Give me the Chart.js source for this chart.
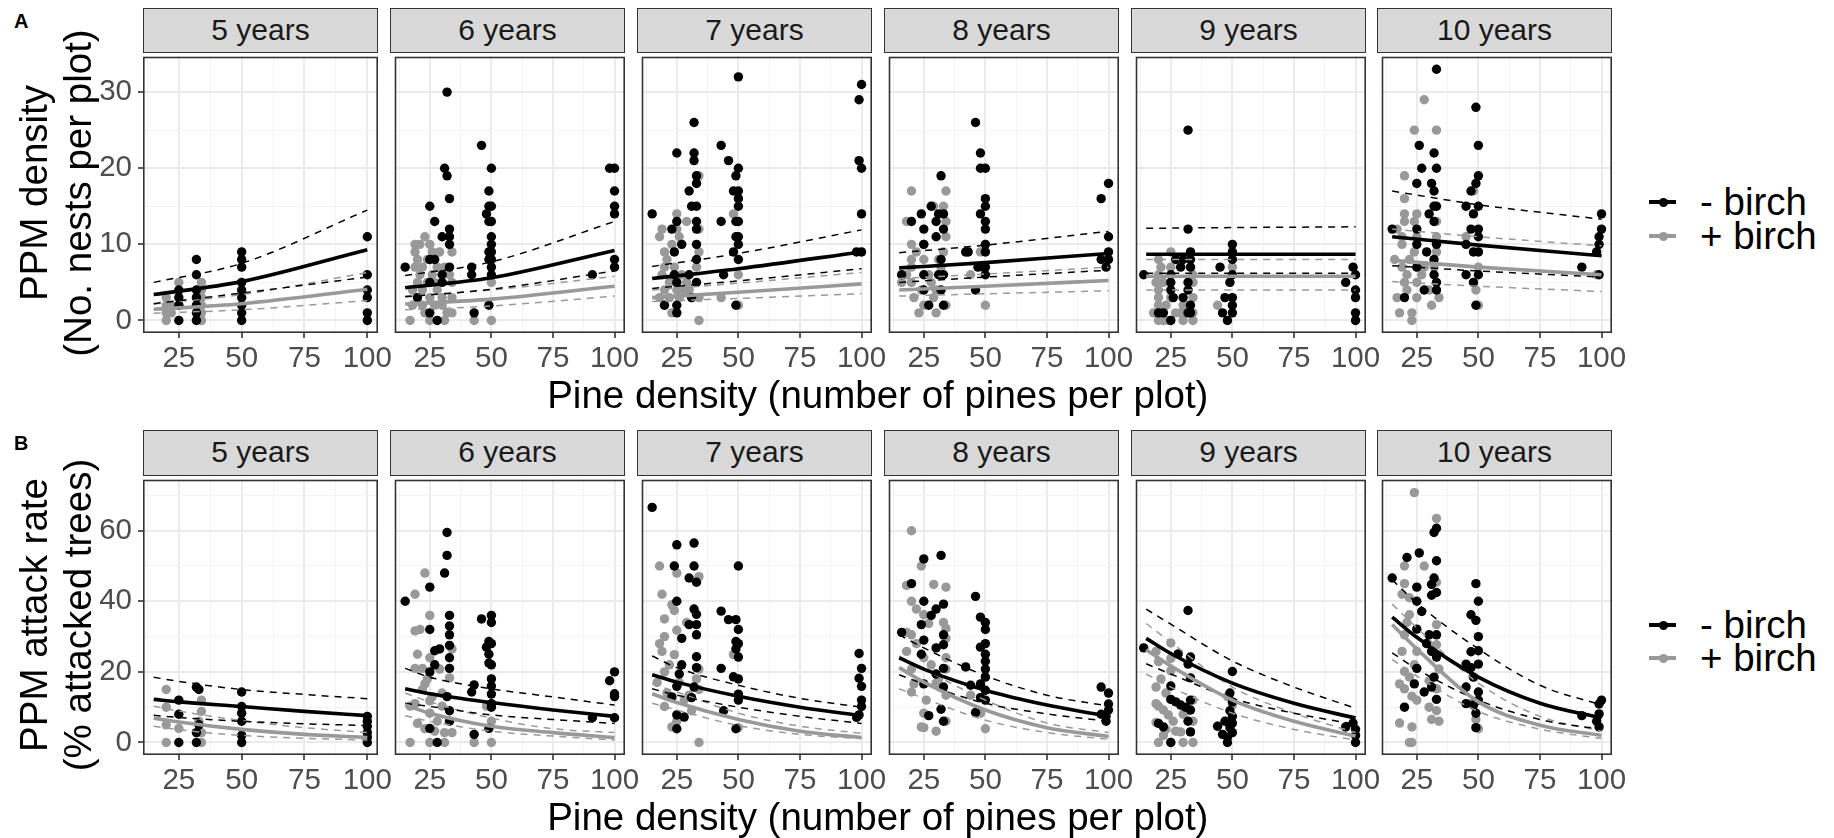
<!DOCTYPE html>
<html>
<head>
<meta charset="utf-8">
<script src="https://cdn.jsdelivr.net/npm/chart.js@4.4.0/dist/chart.umd.min.js"></script>
<style>
  html, body { margin: 0; padding: 0; background: #fff; }
  body { width: 1834px; height: 838px; position: relative; overflow: hidden; font-family: "Liberation Sans", Arial, sans-serif; }
  .abs { position: absolute; }
  .strip { position: absolute; background: #D9D9D9; border: 1.6px solid #333333; box-sizing: border-box; text-align: center; color: #1A1A1A; font-size: 30px; line-height: 41px; white-space: nowrap; }
  .title { position: absolute; color: #000; font-size: 38.5px; line-height: 44px; white-space: nowrap; text-align: center; }
  .tag { position: absolute; font-weight: bold; font-size: 20px; color: #000; }
  .legtext { position: absolute; font-size: 38.5px; line-height: 44px; color: #000; white-space: nowrap; }
  canvas { position: absolute; }
</style>
</head>
<body>
<script>
// ---------------- DATA ----------------
const years = ['5 years', '6 years', '7 years', '8 years', '9 years', '10 years'];
const legendLabels = ['- birch', '+ birch'];
const xMajor = [25, 50, 75, 100];
const xMinor = [12.5, 37.5, 62.5, 87.5];
const xRange = [10.75, 104.25];
const nestsMajor = [0, 10, 20, 30];
const nestsMinor = [5, 15, 25];
const nestsRange = [-1.65, 34.65];
const attackMajor = [0, 20, 40, 60];
const attackMinor = [10, 30, 50, 70];
const attackRange = [-3.55, 74.45];
const nestsCurveX = [15, 50, 100];
const attackCurveX = [15, 25, 50, 75, 100];

// --- PPM density (nests), points [pine density, nests] ---
const n5_minus = [[25,4],[25,3],[25,2],[25,0],[32,8],[32,6],[32,4],[32,3],[32,2],[32,1],[32,0],[50,9],[50,8],[50,7],[50,5],[50,4],[50,3],[50,2],[50,1],[50,0],[100,11],[100,6],[100,4],[100,3],[100,1],[100,0]];
const n5_plus = [[20,3],[20,2],[20,1],[20,0],[22,2],[22,1],[25,5],[25,2],[34,5],[34,4],[34,3],[34,2],[34,1],[34,0]];
const n6_minus = [[15,7],[25,15],[27,13],[25,8],[27,8],[30,11],[31,20],[32,19],[32,30],[33,16],[33,12],[33,11],[33,10],[33,7],[30,6],[30,5],[25,5],[25,1],[20,3],[28,0],[42,7],[42,6],[43,1],[46,23],[50,20],[49,17],[49,15],[50,15],[48,14],[49,13],[50,13],[50,11],[50,10],[50,9],[50,8],[50,7],[49,9],[49,8],[49,2],[50,6],[91,6],[98,20],[100,20],[100,17],[100,15],[100,14],[100,8],[100,7]];
const n6_plus = [[17,0],[19,10],[19,9],[23,11],[25,10],[22,7],[21,6],[20,5],[18,4],[18,2],[25,0],[31,0],[29,9],[34,9],[31,7],[34,5],[34,3],[34,1],[43,0],[50,0],[50,5],[22,2],[23,1],[27,2],[20,8],[24,8],[26,6],[28,4],[22,4],[25,3],[30,3],[32,1],[33,6],[26,9],[21,10],[28,7],[24,5],[19,7],[30,2],[27,5]];
const n7_minus = [[15,14],[25,22],[25,13],[23,12],[27,10],[24,9],[25,5],[25,1],[25,2],[24,6],[20,2],[32,26],[32,22],[32,21],[33,19],[33,18],[30,17],[31,15],[33,15],[33,13],[33,12],[33,10],[33,8],[33,5],[30,6],[31,3],[43,23],[46,21],[43,13],[44,6],[50,32],[50,20],[49,19],[48,17],[50,17],[50,16],[50,15],[49,13],[50,13],[50,11],[49,11],[50,10],[48,9],[50,8],[49,2],[100,31],[99,29],[99,21],[100,20],[100,14],[98,9],[100,9]];
const n7_plus = [[34,19],[25,14],[29,13],[19,12],[18,11],[25,12],[26,11],[20,9],[23,10],[20,7],[19,6],[22,5],[20,4],[20,2],[23,1],[34,0],[34,12],[34,9],[33,7],[30,4],[34,3],[43,3],[48,14],[50,6],[50,2],[26,3],[28,4],[22,3],[24,7],[21,8],[29,5],[31,3],[27,6],[25,4],[18,3]];
const n8_minus = [[16,6],[20,13],[24,14],[25,12],[25,10],[25,6],[25,4],[27,2],[28,15],[30,13],[32,19],[31,14],[33,14],[33,12],[30,11],[32,8],[31,6],[33,6],[32,4],[33,2],[43,9],[42,9],[46,26],[48,22],[48,20],[50,20],[50,16],[50,15],[48,14],[50,13],[50,12],[50,10],[50,9],[49,7],[50,7],[50,6],[46,4],[47,7],[100,18],[97,16],[100,11],[100,9],[100,8],[97,8],[99,7]];
const n8_plus = [[20,17],[34,17],[18,13],[29,15],[33,15],[34,13],[20,10],[25,10],[20,8],[25,8],[34,11],[33,9],[32,7],[20,5],[21,3],[23,1],[30,1],[25,2],[34,2],[44,6],[50,2],[48,9],[16,5],[18,6],[20,7],[28,5],[30,4],[22,9],[27,6],[24,4],[31,8],[29,3]];
const n9_minus = [[32,25],[32,12],[14,6],[27,8],[29,7],[30,8],[33,9],[33,8],[33,7],[25,6],[25,5],[25,4],[26,3],[30,3],[32,5],[32,4],[33,2],[33,1],[20,1],[22,1],[25,0],[32,1],[45,7],[50,10],[50,9],[50,8],[50,6],[49,5],[47,3],[50,3],[50,2],[50,1],[46,1],[48,0],[99,7],[96,5],[100,6],[100,4],[100,3],[100,1],[100,0]];
const n9_plus = [[25,9],[20,8],[25,7],[34,6],[34,5],[20,6],[20,4],[20,3],[20,2],[18,1],[20,0],[30,0],[34,0],[34,3],[29,1],[23,2],[50,7],[44,2],[22,5],[30,2],[24,0],[27,1],[34,1],[19,5],[21,7],[25,3],[32,2],[22,0]];
const n10_minus = [[33,33],[49,28],[50,23],[26,23],[32,22],[27,20],[33,20],[25,18],[31,18],[32,17],[32,15],[33,15],[30,14],[32,13],[25,12],[15,12],[25,10],[29,9],[33,10],[32,8],[25,7],[32,6],[33,5],[28,4],[20,3],[33,4],[50,19],[49,18],[47,17],[45,15],[50,15],[48,14],[47,12],[50,12],[50,11],[45,10],[48,9],[50,9],[50,6],[45,6],[48,5],[49,2],[100,14],[100,12],[99,11],[99,10],[98,9],[92,7],[99,6]];
const n10_plus = [[28,29],[24,25],[33,25],[20,19],[20,16],[20,14],[25,14],[20,13],[24,13],[17,12],[33,13],[19,11],[25,11],[19,10],[33,11],[16,8],[19,7],[24,9],[33,9],[21,6],[25,5],[20,5],[17,3],[25,3],[31,2],[34,3],[18,1],[23,0],[23,1],[48,17],[49,4],[50,2],[98,6],[45,11],[50,7],[22,8],[27,6],[30,4],[21,4],[28,7],[32,7]];

// --- nests fitted curves at nestsCurveX: fit, lower, upper ---
const n5_fit_minus = [3.4, 5.1, 9.3],  n5_lo_minus = [2.2, 3.6, 5.7],  n5_hi_minus = [5.0, 7.5, 14.5];
const n5_fit_plus = [1.46, 2.2, 4.1],  n5_lo_plus = [0.95, 1.4, 2.6],  n5_hi_plus = [2.15, 3.4, 6.3];
const n6_fit_minus = [4.3, 5.6, 9.2],  n6_lo_minus = [3.1, 4.1, 6.5],  n6_hi_minus = [5.9, 7.7, 13.0];
const n6_fit_plus = [2.15, 2.8, 4.5],  n6_lo_plus = [1.4, 1.9, 3.2],   n6_hi_plus = [3.2, 4.0, 5.8];
const n7_fit_minus = [5.5, 6.8, 9.0],  n7_lo_minus = [4.2, 5.2, 6.8],  n7_hi_minus = [7.1, 8.8, 11.9];
const n7_fit_plus = [3.0, 3.7, 4.8],   n7_lo_plus = [2.5, 2.9, 3.5],   n7_hi_plus = [4.0, 4.9, 6.3];
const n8_fit_minus = [6.9, 7.6, 8.8],  n8_lo_minus = [5.0, 5.7, 6.6],  n8_hi_minus = [8.9, 9.9, 11.7];
const n8_fit_plus = [4.0, 4.5, 5.25],  n8_lo_plus = [3.2, 3.5, 3.9],   n8_hi_plus = [5.5, 6.1, 7.0];
const n9_fit_minus = [8.7, 8.7, 8.7],  n9_lo_minus = [6.2, 6.2, 6.2],  n9_hi_minus = [12.1, 12.2, 12.3];
const n9_fit_plus = [5.8, 5.8, 5.8],   n9_lo_plus = [4.0, 4.0, 4.0],   n9_hi_plus = [8.0, 8.0, 8.0];
const n10_fit_minus = [11.0, 9.9, 8.5], n10_lo_minus = [7.2, 6.5, 5.7], n10_hi_minus = [17.0, 15.2, 13.3];
const n10_fit_plus = [7.9, 7.0, 6.0],  n10_lo_plus = [5.1, 4.5, 3.8],  n10_hi_plus = [12.0, 11.0, 9.8];

// --- PPM attack rate, points [pine density, % attacked] ---
const a5_minus = [[25,12],[25,8],[25,0],[32,15.7],[33,15],[32,2.8],[32,0],[33,5],[50,14.3],[50,10.2],[50,8.3],[50,6],[50,2],[50,0],[100,7.4],[100,6],[100,4.6],[100,2.8],[100,1.5],[100,0]];
const a5_plus = [[20,15],[20,10],[20,5],[20,0],[25,4],[34,12],[34,8.8],[34,2.8],[34,0],[33,6]];
const a6_minus = [[15,40],[25,44],[25,32],[27,26],[29,26.5],[25,20],[27,22],[25,4],[28,0],[32,59.5],[32,53],[31,48],[33,36],[33,33],[33,30.5],[33,27.5],[33,24],[33,21],[32,13],[33,6],[33,9],[46,35],[50,36],[50,34],[49,28.6],[50,28],[48,27],[49,25],[50,22],[49,22.5],[50,18],[50,16],[50,13.7],[50,11],[50,10],[49,4],[43,16.3],[42,14.3],[43,2.3],[91,7],[100,20],[98,17.5],[100,13.8],[100,13],[100,7]];
const a6_plus = [[23,48],[19,42],[19,31.6],[21,32],[25,36],[20,25],[34,26.5],[19,21],[25,24],[23,16.6],[29,20.8],[33,18.3],[25,11.8],[19,11],[17,10.3],[25,8.3],[30,10.3],[20,5.4],[23,3.9],[27,3.2],[31,2.8],[34,2.8],[17,0],[25,0],[31,0],[43,0],[50,0],[50,6],[48,10.3],[22,21],[22,15],[28,6],[24,18],[30,14],[26,13]];
const a7_minus = [[15,66.6],[25,56],[32,56.5],[24,50],[32,50],[30,46.6],[33,45.4],[25,40],[32,37.8],[33,36.3],[30,33.4],[33,33.4],[33,30.5],[27,29.5],[33,24.3],[33,21.2],[26,19.4],[25,15.9],[27,22],[32,15.7],[31,12.7],[23,12.9],[25,7.8],[28,7.2],[25,3.9],[43,37.2],[46,34.8],[49,34.8],[50,32],[49,28.6],[50,28],[49,26.5],[50,24.2],[43,21],[48,18.6],[50,18],[50,13.7],[50,12],[44,9],[49,3.9],[50,50],[99,25.2],[100,21],[99,18.2],[100,15.9],[100,12],[100,10.2],[99,7.8],[98,7.1]];
const a7_plus = [[18,50],[25,48],[34,47],[19,42],[23,39],[24,37.4],[20,35],[29,34],[25,31.8],[20,30],[18,28],[19,25.8],[24,24.9],[34,20.8],[33,18],[20,20],[30,13.4],[34,15],[20,10.2],[23,4.4],[34,0],[50,4.2],[48,24.9],[22,22],[26,17],[28,12],[31,9],[21,14],[17,17],[25,6]];
const a8_minus = [[16,31.2],[25,52],[32,53],[20,45],[25,40],[33,39.2],[30,37.8],[28,36],[24,33.4],[33,30.5],[30,26.8],[33,27.7],[25,29],[24,25],[33,21],[30,19.4],[25,16.6],[33,15.7],[32,9.4],[27,7.6],[33,6],[46,41.4],[48,35.5],[50,34],[50,32],[50,28],[48,27],[50,25],[50,23],[50,20.8],[50,18.5],[48,16.6],[50,14.8],[48,12.7],[50,12],[42,21.4],[44,16.2],[46,8.5],[97,15.7],[100,14],[100,10.9],[100,9.2],[99,7.4],[99,6],[97,8]];
const a8_plus = [[20,60],[24,50],[29,44.8],[34,44],[18,44.5],[20,40],[22,37.8],[25,36.2],[27,33.7],[33,34],[34,32.3],[18,31.2],[20,30.5],[34,29.5],[18,25.8],[25,24],[34,24],[20,20.8],[34,20.8],[21,16.6],[20,14.3],[30,16.8],[34,13.4],[44,13.4],[25,8.3],[34,6],[24,4.4],[25,4.2],[30,3.2],[50,3.9],[48,8.3],[22,28],[28,22],[31,18],[26,12]];
const a9_minus = [[32,37.4],[14,26.8],[28,25.1],[33,24.2],[32,22.2],[33,18.3],[25,16],[25,12.2],[27,11.5],[29,10.6],[31,10],[33,9.2],[33,12],[20,5.4],[22,4.4],[33,3],[25,0],[32,6],[50,20.1],[49,14],[50,11.5],[49,9],[50,7.4],[47,6],[50,5.5],[44,4.6],[49,4.2],[46,2.3],[50,2.8],[48,0],[48,1.5],[96,4.4],[99,5.5],[100,3.7],[100,2],[100,0]];
const a9_plus = [[25,28.2],[19,25.8],[20,22.9],[25,23.8],[25,20.3],[19,15.7],[19,11],[20,10.3],[22,9.2],[24,7.8],[19,5.7],[23,3.7],[27,3.2],[29,3],[33,3],[34,6],[34,12],[20,0],[25,0],[30,0],[34,0],[44,4.6],[48,13],[50,10.6],[21,18],[23,14],[30,8],[32,9],[26,6],[22,2]];
const a10_minus = [[15,46.6],[21,52.4],[26,53.7],[32,59.5],[33,60.7],[33,51.5],[32,46.6],[31,44.8],[33,42.5],[31,41.7],[25,44],[25,40],[27,37.1],[25,32.1],[30,30.5],[33,30.5],[29,28],[31,25.8],[33,24.2],[32,18.5],[31,15.7],[33,12.2],[25,21],[24,16.6],[28,14.3],[20,10],[49,45],[50,40],[47,36.2],[49,34.6],[50,30],[47,25.7],[50,26],[45,22.2],[50,22.2],[47,21.2],[48,18.5],[45,15.7],[50,14.3],[45,11],[48,10.6],[50,12],[49,8.3],[49,4.2],[100,12],[99,10.9],[92,7.6],[99,8.1],[98,6],[99,4.4]];
const a10_plus = [[24,70.8],[33,63.5],[20,50],[28,50],[20,45],[33,45.4],[19,42],[22,41],[22,36.2],[33,33.4],[19,25.8],[20,30.5],[25,25.8],[33,27.7],[29,28.2],[34,20.8],[20,20.1],[22,18.5],[18,16.6],[20,15.2],[23,13.1],[25,12],[30,17.5],[33,15.2],[30,10],[33,9],[31,6.5],[34,6],[18,5.5],[23,4.4],[23,0],[22,0],[47,11],[50,3.9],[49,6.5],[21,34],[24,22]];

// --- attack fitted curves at attackCurveX: fit, lower, upper ---
const a5_fit_minus = [12.2, 11.5, 10.2, 8.8, 7.6],  a5_lo_minus = [7.7, 7.1, 6.0, 5.3, 4.8],   a5_hi_minus = [18.5, 17.3, 15.0, 13.6, 12.4];
const a5_fit_plus = [6.9, 5.8, 3.7, 2.3, 1.4],      a5_lo_plus = [4.6, 3.6, 2.0, 1.2, 0.7],    a5_hi_plus = [10.3, 8.9, 6.2, 4.2, 2.8];
const a6_fit_minus = [15.2, 13.8, 11.3, 9.2, 7.4],  a6_lo_minus = [11.1, 10.2, 7.8, 6.5, 5.4], a6_hi_minus = [21.0, 18.5, 15.2, 12.9, 10.6];
const a6_fit_plus = [10.6, 8.3, 4.6, 2.8, 1.4],     a6_lo_plus = [7.6, 6.0, 3.2, 1.8, 0.7],    a6_hi_plus = [14.0, 11.5, 6.9, 3.9, 2.8];
const a7_fit_minus = [19.2, 17.1, 13.1, 10.0, 7.6], a7_lo_minus = [15.2, 13.4, 10.0, 7.4, 5.4], a7_hi_minus = [24.5, 21.2, 16.2, 12.5, 10.0];
const a7_fit_plus = [13.8, 11.3, 6.5, 3.2, 1.4],    a7_lo_plus = [11.1, 9.2, 4.8, 2.3, 1.1],   a7_hi_plus = [16.6, 14.3, 8.3, 4.6, 2.6];
const a8_fit_minus = [24.0, 20.8, 14.8, 10.6, 7.4], a8_lo_minus = [19.2, 16.6, 11.1, 8.1, 6.0], a8_hi_minus = [30.5, 26.8, 18.9, 13.4, 10.3];
const a8_fit_plus = [21.2, 17.1, 9.2, 4.2, 1.7],    a8_lo_plus = [15.2, 12.5, 6.3, 2.8, 0.9],  a8_hi_plus = [24.5, 20.8, 12.0, 5.5, 2.8];
const a9_fit_minus = [29.5, 25.2, 16.8, 11.1, 6.9], a9_lo_minus = [22.3, 19.4, 12.5, 8.3, 5.1], a9_hi_minus = [37.8, 33.5, 23.1, 15.7, 9.7];
const a9_fit_plus = [26.3, 21.7, 12.0, 6.0, 1.8],   a9_lo_plus = [19.4, 15.7, 8.3, 3.7, 0.7],  a9_hi_plus = [33.7, 28.4, 15.7, 8.3, 2.8];
const a10_fit_minus = [35.5, 29.8, 18.5, 11.1, 6.9], a10_lo_minus = [25.4, 20.8, 12.0, 6.5, 3.7], a10_hi_minus = [46.1, 39.5, 26.5, 16.2, 10.6];
const a10_fit_plus = [33.4, 26.5, 11.5, 4.9, 2.0],  a10_lo_plus = [23.5, 18.8, 8.8, 3.8, 1.1], a10_hi_plus = [39.2, 32.5, 16.8, 7.4, 3.2];

// ---------------- ASSEMBLY ----------------
const nestsPanels = [
  [n5_minus, n5_plus, n5_fit_minus, n5_lo_minus, n5_hi_minus, n5_fit_plus, n5_lo_plus, n5_hi_plus],
  [n6_minus, n6_plus, n6_fit_minus, n6_lo_minus, n6_hi_minus, n6_fit_plus, n6_lo_plus, n6_hi_plus],
  [n7_minus, n7_plus, n7_fit_minus, n7_lo_minus, n7_hi_minus, n7_fit_plus, n7_lo_plus, n7_hi_plus],
  [n8_minus, n8_plus, n8_fit_minus, n8_lo_minus, n8_hi_minus, n8_fit_plus, n8_lo_plus, n8_hi_plus],
  [n9_minus, n9_plus, n9_fit_minus, n9_lo_minus, n9_hi_minus, n9_fit_plus, n9_lo_plus, n9_hi_plus],
  [n10_minus, n10_plus, n10_fit_minus, n10_lo_minus, n10_hi_minus, n10_fit_plus, n10_lo_plus, n10_hi_plus]
];
const attackPanels = [
  [a5_minus, a5_plus, a5_fit_minus, a5_lo_minus, a5_hi_minus, a5_fit_plus, a5_lo_plus, a5_hi_plus],
  [a6_minus, a6_plus, a6_fit_minus, a6_lo_minus, a6_hi_minus, a6_fit_plus, a6_lo_plus, a6_hi_plus],
  [a7_minus, a7_plus, a7_fit_minus, a7_lo_minus, a7_hi_minus, a7_fit_plus, a7_lo_plus, a7_hi_plus],
  [a8_minus, a8_plus, a8_fit_minus, a8_lo_minus, a8_hi_minus, a8_fit_plus, a8_lo_plus, a8_hi_plus],
  [a9_minus, a9_plus, a9_fit_minus, a9_lo_minus, a9_hi_minus, a9_fit_plus, a9_lo_plus, a9_hi_plus],
  [a10_minus, a10_plus, a10_fit_minus, a10_lo_minus, a10_hi_minus, a10_fit_plus, a10_lo_plus, a10_hi_plus]
];

const rows = [
  { tag: 'A', panels: nestsPanels, curveX: nestsCurveX, range: nestsRange, major: nestsMajor, minor: nestsMinor,
    stripTop: 8, plotTop: 52, plotH: 281, ytitle: ['PPM density', '(No. nests per plot)'], xtitleY: 395, legY: [202, 236] },
  { tag: 'B', panels: attackPanels, curveX: attackCurveX, range: attackRange, major: attackMajor, minor: attackMinor,
    stripTop: 430, plotTop: 475, plotH: 280, ytitle: ['PPM attack rate', '(% attacked trees)'], xtitleY: 817, legY: [625, 658] }
];

// ---------------- LAYOUT / STYLE ----------------
const PANEL_LEFT0 = 143.3, PANEL_STEP = 246.8, PANEL_W = 235;
const YAXIS_W = 60, PAD_R = 34, PAD_B = 52;
const BLACK = '#000000', GREY = '#999999';
const PT_R = 4.7;
Chart.defaults.font.family = '"Liberation Sans", Arial, sans-serif';

const framePlugin = {
  id: 'frame',
  afterDraw(chart) {
    const a = chart.chartArea, c = chart.ctx;
    c.save();
    c.strokeStyle = '#333333';
    c.lineWidth = 1.6;
    c.strokeRect(a.left + 0.8, a.top + 0.8, a.right - a.left - 1.6, a.bottom - a.top - 1.6);
    c.restore();
  }
};

function pts(arr) { return arr.map(p => ({ x: p[0], y: p[1] })); }
function curve(xs, ys) { return xs.map((x, i) => ({ x: x, y: ys[i] })); }

function addDiv(cls, text, style) {
  const d = document.createElement('div');
  d.className = cls;
  d.textContent = text;
  Object.assign(d.style, style);
  document.body.appendChild(d);
  return d;
}

rows.forEach((row, r) => {
  addDiv('tag', row.tag, { left: '14px', top: (row.stripTop + 2) + 'px' });
  row.panels.forEach((p, i) => {
    const left = Math.round(PANEL_LEFT0 + PANEL_STEP * i);
    addDiv('strip', years[i], { left: left + 'px', top: row.stripTop + 'px', width: PANEL_W + 'px', height: (row.plotTop - row.stripTop + 1) + 'px' });
    const padL = i === 0 ? YAXIS_W : 0;
    const cv = document.createElement('canvas');
    const W = padL + PANEL_W + PAD_R, H = row.plotH + PAD_B;
    cv.width = W; cv.height = H;
    cv.style.width = W + 'px'; cv.style.height = H + 'px';
    cv.style.left = (left - padL) + 'px';
    cv.style.top = row.plotTop + 'px';
    document.body.appendChild(cv);

    const [minus, plus, fitM, loM, hiM, fitP, loP, hiP] = p;
    const lineBase = { showLine: true, pointRadius: 0, fill: false, cubicInterpolationMode: 'monotone' };
    const datasets = [
      Object.assign({ data: curve(row.curveX, fitM), borderColor: BLACK, borderWidth: 3.6, order: 0 }, lineBase),
      Object.assign({ data: curve(row.curveX, fitP), borderColor: GREY, borderWidth: 3.6, order: 1 }, lineBase),
      Object.assign({ data: curve(row.curveX, loM), borderColor: BLACK, borderWidth: 1.5, borderDash: [7, 6], order: 2 }, lineBase),
      Object.assign({ data: curve(row.curveX, hiM), borderColor: BLACK, borderWidth: 1.5, borderDash: [7, 6], order: 2 }, lineBase),
      Object.assign({ data: curve(row.curveX, loP), borderColor: GREY, borderWidth: 1.5, borderDash: [7, 6], order: 3 }, lineBase),
      Object.assign({ data: curve(row.curveX, hiP), borderColor: GREY, borderWidth: 1.5, borderDash: [7, 6], order: 3 }, lineBase),
      { data: pts(minus), backgroundColor: BLACK, borderWidth: 0, pointRadius: PT_R, pointBorderWidth: 0, order: 4 },
      { data: pts(plus), backgroundColor: GREY, borderWidth: 0, pointRadius: PT_R, pointBorderWidth: 0, order: 5 }
    ];

    const xAll = xMinor.concat(xMajor).sort((a, b) => a - b);
    const yAll = row.minor.concat(row.major).sort((a, b) => a - b);
    const isXMajor = v => xMajor.includes(v);
    const isYMajor = v => row.major.includes(v);

    new Chart(cv, {
      type: 'scatter',
      data: { datasets },
      options: {
        responsive: false, animation: false, events: [], devicePixelRatio: 1,
        layout: { padding: { left: 0, top: 0, right: PAD_R, bottom: 0 } },
        plugins: { legend: { display: false }, tooltip: { enabled: false } },
        scales: {
          x: {
            type: 'linear', min: xRange[0], max: xRange[1], bounds: 'data',
            afterBuildTicks: ax => { ax.ticks = xAll.map(v => ({ value: v })); },
            afterFit: ax => { ax.height = PAD_B; ax.paddingLeft = 0; ax.paddingRight = 0; },
            border: { display: false },
            ticks: { autoSkip: false, maxRotation: 0, minRotation: 0, padding: 3, color: '#4D4D4D',
                     font: { size: 29.5 }, callback: v => isXMajor(v) ? String(v) : '' },
            grid: {
              color: c => (c.tick && isXMajor(c.tick.value)) ? '#EBEBEB' : '#F3F3F3',
              lineWidth: c => (c.tick && isXMajor(c.tick.value)) ? 2 : 1,
              tickLength: 5, tickWidth: 1.6,
              tickColor: c => (c.tick && isXMajor(c.tick.value)) ? '#333333' : 'rgba(0,0,0,0)'
            }
          },
          y: {
            type: 'linear', min: row.range[0], max: row.range[1], bounds: 'data',
            afterBuildTicks: ax => { ax.ticks = yAll.map(v => ({ value: v })); },
            afterFit: ax => { ax.width = padL; ax.paddingTop = 0; ax.paddingBottom = 0; },
            border: { display: false },
            ticks: { display: i === 0, autoSkip: false, padding: 6, color: '#4D4D4D',
                     font: { size: 29.5 }, callback: v => isYMajor(v) ? String(v) : '' },
            grid: {
              drawTicks: i === 0,
              color: c => (c.tick && isYMajor(c.tick.value)) ? '#EBEBEB' : '#F3F3F3',
              lineWidth: c => (c.tick && isYMajor(c.tick.value)) ? 2 : 1,
              tickLength: 5, tickWidth: 1.6,
              tickColor: c => (c.tick && isYMajor(c.tick.value)) ? '#333333' : 'rgba(0,0,0,0)'
            }
          }
        }
      },
      plugins: [framePlugin]
    });
  });

  const yc = row.plotTop + row.plotH / 2;
  const yt = addDiv('title', '', { left: '56px', top: yc + 'px', width: '420px', transform: 'translate(-50%, -50%) rotate(-90deg)' });
  yt.innerHTML = row.ytitle[0] + '<br>' + row.ytitle[1];
  const xc = PANEL_LEFT0 + (PANEL_STEP * 5 + PANEL_W) / 2;
  addDiv('title', 'Pine density (number of pines per plot)', { left: xc + 'px', top: row.xtitleY + 'px', transform: 'translate(-50%, -50%)' });

  [BLACK, GREY].forEach((col, k) => {
    const cy = row.legY[k];
    addDiv('abs', '', { left: '1649px', top: (cy - 2) + 'px', width: '27px', height: '4px', background: col });
    addDiv('abs', '', { left: '1658.5px', top: (cy - 4.5) + 'px', width: '9px', height: '9px', borderRadius: '50%', background: col });
    addDiv('legtext', legendLabels[k], { left: '1700px', top: (cy - 22) + 'px' });
  });
});
</script>
</body>
</html>
